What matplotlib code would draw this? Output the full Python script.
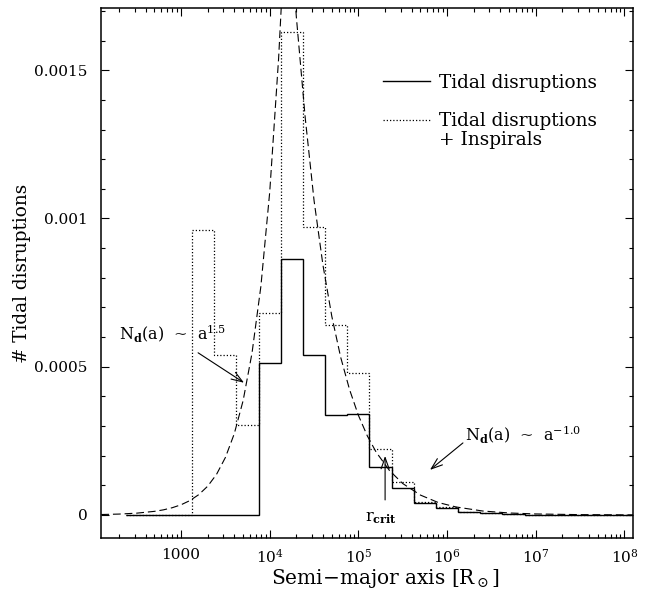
import numpy as np
import matplotlib
matplotlib.use("Agg")
import matplotlib.pyplot as plt
from matplotlib.ticker import FixedLocator, LogLocator, MultipleLocator, NullFormatter

plt.rcParams['font.family'] = ['DejaVu Serif']
plt.rcParams['mathtext.fontset'] = 'dejavuserif'

# histogram bin edges (log10 of semi-major axis in R_sun)
log_edges = [2.375, 2.625, 2.875, 3.125, 3.375, 3.625, 3.875, 4.125, 4.375, 4.625,
             4.875, 5.125, 5.375, 5.625, 5.875, 6.125, 6.375, 6.625, 6.875, 7.125,
             7.375, 7.625, 7.875, 8.125]
# tidal disruptions only
n_tidal = [0, 0, 0, 0, 0, 0, 0.000513, 0.000865, 0.00054, 0.000338,
           0.000342, 0.000162, 0.0000912, 0.0000405, 0.0000236, 0.00001, 0.000005,
           0.000003, 0.000001, 0, 0, 0, 0]
# tidal disruptions + inspirals
n_total = [0, 0, 0, 0.00096, 0.00054, 0.000304, 0.00068, 0.00163, 0.00097, 0.00064,
           0.00048, 0.000223, 0.000111, 0.000044, 0.000026, 0.000011, 0.000006,
           0.000003, 0.000001, 0, 0, 0, 0]

# dashed power-law fit
fit_loga = [2.10, 2.30, 2.50, 2.70, 2.80, 2.90, 3.00, 3.10, 3.20, 3.30, 3.40, 3.50,
            3.60, 3.70, 3.80, 3.90, 4.00, 4.10, 4.15, 4.196, 4.25, 4.30, 4.40, 4.50,
            4.60, 4.70, 4.80, 4.90, 5.00, 5.10, 5.20, 5.35, 5.50, 5.70, 5.90, 6.10,
            6.40, 6.70, 7.00, 7.50, 8.10]
fit_n = [1.5e-6, 3.0e-6, 6.1e-6, 1.22e-5, 1.72e-5, 2.44e-5, 3.44e-5, 4.86e-5, 6.87e-5,
         9.7e-5, 1.37e-4, 1.94e-4, 2.74e-4, 3.86e-4, 5.46e-4, 7.71e-4, 1.09e-3, 1.54e-3,
         1.83e-3, 2.14e-3, 1.89e-3, 1.68e-3, 1.34e-3, 1.06e-3, 8.43e-4, 6.70e-4, 5.32e-4,
         4.23e-4, 3.36e-4, 2.67e-4, 2.12e-4, 1.50e-4, 1.06e-4, 6.7e-5, 4.2e-5, 2.7e-5,
         1.34e-5, 6.7e-6, 3.4e-6, 1.1e-6, 2.7e-7]

r_crit = 2.0e5

edges = 10 ** np.array(log_edges)
fit_a = 10 ** np.array(fit_loga)

fig = plt.figure(figsize=(6.45, 5.9), dpi=100)
ax = fig.add_axes([101/645, 52/590, 532/645, 530/590])

ax.stairs(n_total, edges, color='k', lw=0.9, linestyle=(0, (1, 1.6)), label='Tidal disruptions\n+ Inspirals')
ax.stairs(n_tidal, edges, color='k', lw=1.0, label='Tidal disruptions')
ax.plot(fit_a, fit_n, color='k', lw=0.8, linestyle=(0, (7, 3.5)))

ax.set_xscale('log')
ax.set_xlim(125, 1.25e8)
ax.set_ylim(-0.0000777, 0.00171)

# ticks
ax.xaxis.set_major_locator(FixedLocator([1e3, 1e4, 1e5, 1e6, 1e7, 1e8]))
ax.set_xticklabels(['1000', r'10$^4$', r'10$^5$', r'10$^6$', r'10$^7$', r'10$^8$'])
ax.xaxis.set_minor_locator(LogLocator(base=10, subs=np.arange(2, 10), numticks=20))
ax.xaxis.set_minor_formatter(NullFormatter())
ax.set_yticks([0, 0.0005, 0.001, 0.0015])
ax.set_yticklabels(['0', '0.0005', '0.001', '0.0015'])
ax.yaxis.set_minor_locator(MultipleLocator(0.0001))
ax.tick_params(which='both', direction='in', top=True, right=True, width=0.8, labelsize=11)
ax.tick_params(which='major', length=6)
ax.tick_params(axis='y', which='major', pad=9.5)
ax.tick_params(axis='x', which='major', pad=7)
ax.tick_params(which='minor', length=3)
for s in ax.spines.values():
    s.set_linewidth(1.1)

ax.set_xlabel(r'Semi$-$major axis [R$_\odot$]', fontsize=14.5)
ax.xaxis.set_label_coords(0.535, -0.055)
ax.set_ylabel('# Tidal disruptions', fontsize=13.3)
ax.yaxis.set_label_coords(-0.132, 0.5)

# annotations
arrow = dict(arrowstyle='->,head_length=0.7,head_width=0.25', color='k', lw=0.8,
             shrinkA=0, shrinkB=0, mutation_scale=11.5)
ax.annotate('', xy=(10**3.71, 4.46e-4), xytext=(10**3.192, 5.47e-4), arrowprops=arrow)
ax.text(10**2.30, 6.15e-4, r'N$_\mathbf{d}$(a)  ~  a$^{1.5}$', fontsize=11.5, ha='left', va='center')
ax.annotate('', xy=(10**5.807, 1.52e-4), xytext=(10**6.179, 2.43e-4), arrowprops=arrow)
ax.text(10**6.20, 2.74e-4, r'N$_\mathbf{d}$(a)  ~  a$^{-1.0}$', fontsize=11.5, ha='left', va='center')
ax.annotate('', xy=(r_crit, 1.99e-4), xytext=(r_crit, 5.07e-5), arrowprops=arrow)
ax.text(10**5.255, -1.0e-5, r'r$_\mathbf{crit}$', fontsize=11.5, ha='center', va='center')

leg = ax.legend(loc='upper left', bbox_to_anchor=(0.499, 0.907), frameon=False, fontsize=13.3,
                handlelength=2.54, handletextpad=0.49, labelspacing=1.08, reverse=True)
leg.get_texts()[1].set_linespacing(1.05)
# keep the dotted sample level with the first line of its two-line label
dotted = leg.legend_handles[1]
dotted.set_ydata(np.asarray(dotted.get_ydata()) + 7.8)

fig.savefig('out.png', dpi=100)
